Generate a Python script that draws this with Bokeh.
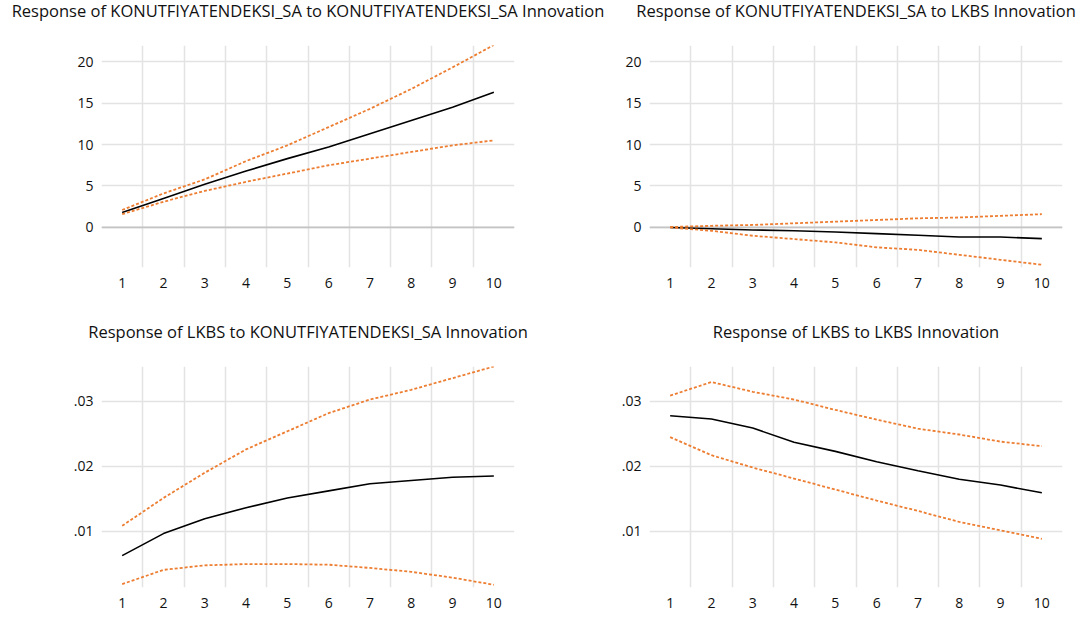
from bokeh.plotting import figure
from bokeh.layouts import row, column
from bokeh.models import FixedTicker, Span, Range1d, Title
from bokeh.embed import file_html
from bokeh.resources import INLINE

# ---------------- data ----------------
periods = [1, 2, 3, 4, 5, 6, 7, 8, 9, 10]

# Response of KONUTFIYATENDEKSI_SA to KONUTFIYATENDEKSI_SA Innovation
kk_resp = [1.8, 3.5, 5.2, 6.8, 8.3, 9.7, 11.3, 12.9, 14.5, 16.3]
kk_lower = [1.6, 3.1, 4.4, 5.5, 6.5, 7.5, 8.3, 9.1, 9.9, 10.5]
kk_upper = [2.1, 4.1, 5.8, 8.0, 9.9, 12.1, 14.3, 16.7, 19.3, 22.0]

# Response of KONUTFIYATENDEKSI_SA to LKBS Innovation
kl_resp = [0.0, -0.15, -0.3, -0.4, -0.55, -0.75, -0.95, -1.15, -1.15, -1.35]
kl_lower = [0.0, -0.4, -1.0, -1.4, -1.8, -2.4, -2.7, -3.3, -3.9, -4.5]
kl_upper = [0.05, 0.2, 0.3, 0.5, 0.7, 0.9, 1.1, 1.2, 1.4, 1.6]

# Response of LKBS to KONUTFIYATENDEKSI_SA Innovation
lk_resp = [0.0062, 0.0096, 0.0119, 0.0136, 0.0151, 0.0162, 0.0173, 0.0178, 0.0183, 0.0185]
lk_lower = [0.0018, 0.0040, 0.0047, 0.0049, 0.0049, 0.0048, 0.0043, 0.0037, 0.0028, 0.0017]
lk_upper = [0.0108, 0.0151, 0.0190, 0.0226, 0.0254, 0.0282, 0.0303, 0.0318, 0.0336, 0.0354]

# Response of LKBS to LKBS Innovation
ll_resp = [0.0278, 0.0273, 0.0259, 0.0237, 0.0223, 0.0207, 0.0193, 0.0180, 0.0171, 0.0159]
ll_lower = [0.0245, 0.0217, 0.0198, 0.0181, 0.0164, 0.0147, 0.0131, 0.0114, 0.0101, 0.0088]
ll_upper = [0.0309, 0.0330, 0.0315, 0.0303, 0.0287, 0.0272, 0.0258, 0.0249, 0.0238, 0.0231]

titles = [
    "Response of KONUTFIYATENDEKSI_SA to KONUTFIYATENDEKSI_SA Innovation",
    "Response of KONUTFIYATENDEKSI_SA to LKBS Innovation",
    "Response of LKBS to KONUTFIYATENDEKSI_SA Innovation",
    "Response of LKBS to LKBS Innovation",
]

top_ticks = [0, 5, 10, 15, 20]
top_tick_labels = ["0", "5", "10", "15", "20"]
bottom_ticks = [0.01, 0.02, 0.03]
bottom_tick_labels = [".01", ".02", ".03"]

# ---------------- styling ----------------
FONT = "Open Sans"
ORANGE = "#ED7D31"
GRID = "#E3E3E3"
TEXT = "#111111"


def panel(title, resp, lower, upper, yr, yticks, ylabels, width, height,
          b_left, b_right, b_top, b_bottom, zero_line, gap):
    p = figure(width=width, height=height, output_backend="svg",
               toolbar_location=None, x_range=Range1d(0.5, 10.5),
               y_range=Range1d(*yr), title=None,
               min_border_left=b_left, min_border_right=b_right,
               min_border_top=b_top, min_border_bottom=b_bottom)
    p.outline_line_color = None
    p.background_fill_color = "white"
    p.border_fill_color = "white"

    # spacer between frame and title, then the title itself
    p.add_layout(Title(text=" ", text_font_size="1px", standoff=gap), "above")
    p.add_layout(Title(text=title, align="center", text_font=FONT,
                       text_font_size="16.5px", text_font_style="normal",
                       text_color=TEXT, standoff=0), "above")

    # grid: vertical lines between categories, horizontal at ticks
    p.xgrid.ticker = FixedTicker(ticks=[k + 0.5 for k in periods[:-1]])
    p.xgrid.grid_line_color = GRID
    p.xgrid.grid_line_width = 1.5
    p.ygrid.grid_line_color = GRID
    p.ygrid.grid_line_width = 1.5

    p.xaxis.ticker = FixedTicker(ticks=periods)
    p.yaxis.ticker = FixedTicker(ticks=yticks)
    p.yaxis.major_label_overrides = {t: l for t, l in zip(yticks, ylabels)}

    for ax in (p.xaxis, p.yaxis):
        ax.axis_line_color = None
        ax.major_tick_line_color = None
        ax.minor_tick_line_color = None
        ax.major_tick_out = 0
        ax.major_label_text_font = FONT
        ax.major_label_text_font_size = "14px"
        ax.major_label_text_color = TEXT
    p.xaxis.major_label_standoff = 10
    p.yaxis.major_label_standoff = 8

    if zero_line:
        p.add_layout(Span(location=0, dimension="width", line_color="#C4C4C4",
                          line_width=1.8, level="underlay"))

    p.line(periods, resp, line_color="black", line_width=1.6)
    p.line(periods, upper, line_color=ORANGE, line_width=1.8, line_dash="3 2")
    p.line(periods, lower, line_color=ORANGE, line_width=1.8, line_dash="3 2")
    return p


top_range = (-4.83, 21.94)
bottom_range = (0.00128, 0.0354)

p1 = panel(titles[0], kk_resp, kk_lower, kk_upper, top_range, top_ticks, top_tick_labels,
           612, 305, 101, 98, 50, 33, True, 21)
p2 = panel(titles[1], kl_resp, kl_lower, kl_upper, top_range, top_ticks, top_tick_labels,
           468, 305, 37, 18, 50, 33, True, 21)
p3 = panel(titles[2], lk_resp, lk_lower, lk_upper, bottom_range, bottom_ticks, bottom_tick_labels,
           612, 316, 101, 98, 66, 29, False, 21)
p4 = panel(titles[3], ll_resp, ll_lower, ll_upper, bottom_range, bottom_ticks, bottom_tick_labels,
           468, 316, 37, 18, 66, 29, False, 21)

layout = column(row(p1, p2), row(p3, p4), styles={"margin-top": "-5px"})

open("out.html", "w").write(file_html(layout, INLINE))
